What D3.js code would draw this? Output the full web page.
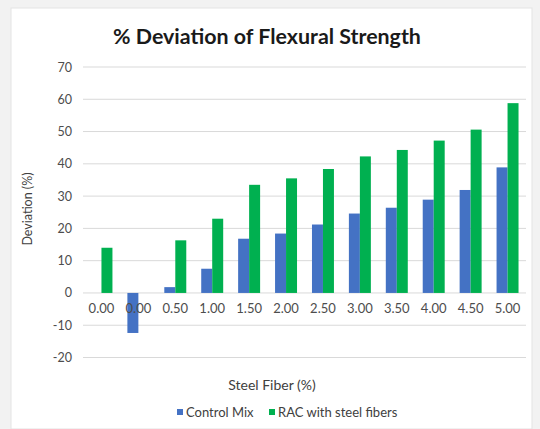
<!DOCTYPE html>
<html>
<head>
<meta charset="utf-8">
<script src="https://cdn.jsdelivr.net/npm/d3@7"></script>
<style>
  html, body { margin: 0; padding: 0; background: #f2f2f2; }
  svg { display: block; font-family: Lato, "Open Sans", sans-serif; }
</style>
</head>
<body>
<svg id="chart" width="540" height="429"></svg>
<script>
// Steel fiber content categories (x axis)
const categories = ["0.00", "0.00", "0.50", "1.00", "1.50", "2.00", "2.50", "3.00", "3.50", "4.00", "4.50", "5.00"];
// % deviation of flexural strength
const controlMix = [0, -12.4, 1.8, 7.5, 16.8, 18.4, 21.2, 24.6, 26.4, 28.9, 31.9, 38.9];
const racSteel   = [14.0, 0, 16.3, 23.0, 33.5, 35.5, 38.4, 42.3, 44.3, 47.2, 50.6, 58.8];
const seriesNames = ["Control Mix", "RAC with steel fibers"];
const seriesColors = ["#4472C4", "#00B050"];
const yTicks = [-20, -10, 0, 10, 20, 30, 40, 50, 60, 70];

const svg = d3.select("#chart");
const W = 540, H = 429;

// chart panel
svg.append("rect").attr("x", 11).attr("y", 8).attr("width", 521).attr("height", H - 8)
  .attr("fill", "#fff").attr("stroke", "#e3e3e3").attr("stroke-width", 1);

const m = { left: 83, right: 526, top: 67, bottom: 357.5 };

const x = d3.scaleBand().domain(d3.range(categories.length)).range([m.left, m.right]).paddingInner(0).paddingOuter(0);
const y = d3.scaleLinear().domain([-20, 70]).range([m.bottom, m.top]);
const inner = d3.scaleBand().domain([0, 1]).range([0, x.bandwidth()]).paddingInner(0).paddingOuter(0.68);

// gridlines
svg.append("g").selectAll("line").data(yTicks).join("line")
  .attr("x1", m.left).attr("x2", m.right)
  .attr("y1", d => y(d)).attr("y2", d => y(d))
  .attr("stroke", "#d9d9d9").attr("stroke-width", 1);

// y axis labels (plain hyphen for negatives)
const yAxis = d3.axisLeft(y).tickValues(yTicks).tickFormat(d => String(d)).tickSize(0).tickPadding(0);
const gy = svg.append("g").attr("transform", `translate(${m.left - 11},0)`).call(yAxis);
gy.select(".domain").remove();
gy.selectAll("text").attr("font-size", 12.5).attr("fill", "#4d4d4d").attr("font-family", "Lato, sans-serif");

// bars
const data = [controlMix, racSteel];
data.forEach((vals, s) => {
  svg.append("g").selectAll("rect").data(vals).join("rect")
    .attr("x", (d, i) => x(i) + inner(s))
    .attr("width", inner.bandwidth())
    .attr("y", d => y(Math.max(0, d)))
    .attr("height", d => Math.abs(y(d) - y(0)))
    .attr("fill", seriesColors[s]);
});

// x axis category labels (at fixed position below zero line)
const xAxis = d3.axisBottom(x).tickFormat(i => categories[i]).tickSize(0).tickPadding(0);
const gx = svg.append("g").attr("transform", `translate(0,${y(0) + 11})`).call(xAxis);
gx.select(".domain").remove();
gx.selectAll("text").attr("font-size", 13).attr("fill", "#4d4d4d").attr("font-family", "Lato, sans-serif");

// title
svg.append("text").attr("x", 267).attr("y", 44).attr("text-anchor", "middle")
  .attr("font-size", 21.4).attr("font-weight", "bold").attr("fill", "#1a1a1a")
  .text("% Deviation of Flexural Strength");

// axis titles
svg.append("text").attr("transform", "translate(32,209) rotate(-90)").attr("text-anchor", "middle")
  .attr("font-size", 12.5).attr("fill", "#404040").text("Deviation (%)");
svg.append("text").attr("x", 272).attr("y", 390).attr("text-anchor", "middle")
  .attr("font-size", 14).attr("fill", "#404040").text("Steel Fiber (%)");

// legend
const legendX = [177, 269];
const lg = svg.append("g");
seriesNames.forEach((name, s) => {
  lg.append("rect").attr("x", legendX[s]).attr("y", 409).attr("width", 6).attr("height", 6).attr("fill", seriesColors[s]);
  lg.append("text").attr("x", legendX[s] + 9).attr("y", 417).attr("font-size", 13).attr("fill", "#404040").text(name);
});
</script>
</body>
</html>
